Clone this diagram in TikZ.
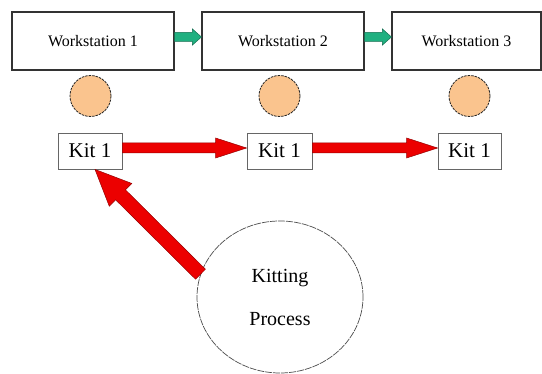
\documentclass[tikz,border=0pt]{standalone}
\usepackage{fontspec}
\setmainfont{Liberation Serif}
\usetikzlibrary{calc,shapes.geometric}

% Block arrow from #1 to #2: shaft half-width #3, head half-width #4,
% head length #5, drawing style #6
\newcommand\blockarrow[6]{%
  \coordinate (ba-h) at ($(#2)!#5!(#1)$);
  \path[#6] ($(#1)!#3!90:(#2)$) -- ($(ba-h)!#3!-90:(#1)$)
    -- ($(ba-h)!#4!-90:(#1)$) -- (#2)
    -- ($(ba-h)!#4!90:(#1)$) -- ($(ba-h)!#3!90:(#1)$)
    -- ($(#1)!#3!-90:(#2)$) -- cycle;
}

\tikzset{
  station/.style={draw=black!80, line width=1.1pt, rectangle, minimum height=58pt,
    inner sep=0pt, font=\fontsize{16}{18}\selectfont},
  kitbox/.style={draw=black!60, line width=0.9pt, rectangle, minimum height=36pt,
    inner sep=0pt, font=\fontsize{21}{24}\selectfont},
  token/.style={circle, fill={rgb,255:red,250;green,196;blue,142}, draw=black!85,
    line width=0.8pt, dash pattern=on 2.5pt off 1pt, minimum size=41pt, inner sep=0pt},
  process/.style={ellipse, draw=black!70, line width=0.7pt,
    dash pattern=on 7pt off 1pt, minimum width=166pt, minimum height=152pt,
    inner sep=0pt, align=center, font=\fontsize{20}{43}\selectfont},
  flowgreen/.style={fill={rgb,255:red,32;green,176;blue,128}, draw={rgb,255:red,20;green,110;blue,80}, line width=0.5pt},
  flowred/.style={fill={rgb,255:red,236;green,0;blue,0}, draw={rgb,255:red,150;green,0;blue,0}, line width=0.5pt},
}

\begin{document}
\begin{tikzpicture}[x=1pt, y=-1pt]
\useasboundingbox[fill=white] (0,0) rectangle (542,374);

% workstations
\node[station, minimum width=162pt] (w1) at (93,41) {Workstation 1};
\node[station, minimum width=162pt] (w2) at (283,41) {Workstation 2};
\node[station, minimum width=149pt] (w3) at (466.5,41) {Workstation 3};

% tokens below each workstation
\node[token] (c1) at (90.5,96) {};
\node[token] (c2) at (279.5,96) {};
\node[token] (c3) at (469.5,96) {};

% kits
\node[kitbox, minimum width=64pt] (k1) at (90,151) {Kit 1};
\node[kitbox, minimum width=65pt] (k2) at (279.5,151) {Kit 1};
\node[kitbox, minimum width=63pt] (k3) at (469.5,151) {Kit 1};

% kitting process
\node[process] (kp) at (280,297) {Kitting\\Process};

% flow between workstations
\coordinate (g1a) at ($(w1.east)+(0,-4)$);
\coordinate (g1b) at ($(w2.west)+(0,-4)$);
\coordinate (g2a) at ($(w2.east)+(0,-4)$);
\coordinate (g2b) at ($(w3.west)+(0,-4)$);
\blockarrow{g1a}{g1b}{4.5pt}{8pt}{9pt}{flowgreen}
\blockarrow{g2a}{g2b}{4.5pt}{8pt}{9pt}{flowgreen}

% kit movement
\coordinate (r1a) at ($(k1.east)+(0,-3)$);
\coordinate (r1b) at ($(k2.west)+(0,-3)$);
\coordinate (r2a) at ($(k2.east)+(0,-3)$);
\coordinate (r2b) at ($(k3.west)+(0,-3)$);
\blockarrow{r1a}{r1b}{5pt}{10pt}{31pt}{flowred}
\blockarrow{r2a}{r2b}{5pt}{10pt}{31pt}{flowred}

% kitting process feeds the first kit
\coordinate (kt) at ($(k1.south)+(5,0)$);
\blockarrow{kp.164}{kt}{7pt}{16pt}{36pt}{flowred}
\end{tikzpicture}
\end{document}
